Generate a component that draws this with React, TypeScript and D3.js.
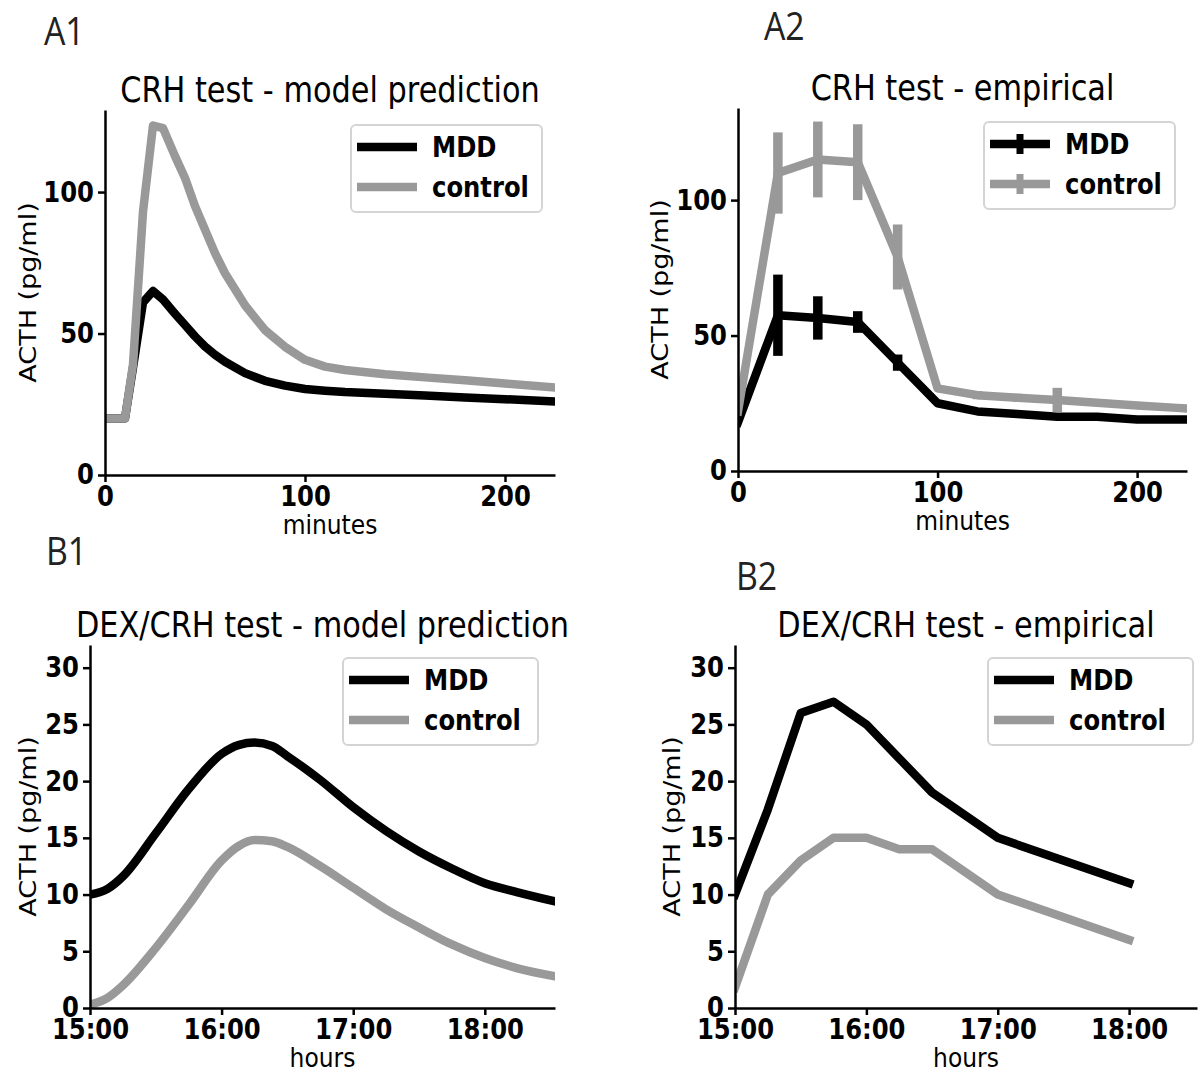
import React, { useRef, useEffect } from "react";
import * as d3 from "d3";

// A1 - CRH test, model prediction (minutes after CRH)
const crhModelMinutes = [0, 10, 14, 19, 24, 29, 35, 40, 45, 50, 55, 60, 70, 80, 90, 100, 110, 120, 140, 160, 180, 200, 225];
const crhModelMDD = [20, 20, 38, 61, 65, 62, 57, 53, 49, 45.4, 42.5, 40, 36, 33.3, 31.6, 30.4, 29.8, 29.3, 28.7, 28.1, 27.4, 26.8, 26];
const crhModelControl = [20, 20, 39, 93, 123.5, 122.6, 112.7, 105, 95, 86.7, 78.4, 71.3, 60, 51.2, 45.3, 40.7, 38.3, 37.1, 35.6, 34.5, 33.5, 32.3, 30.9];

// A2 - CRH test, empirical
const crhEmpMinutes = [0, 20, 40, 60, 80, 100, 120, 140, 160, 180, 200, 220, 240];
const crhEmpMDD = [18, 57.5, 56.5, 55, 40, 25, 22, 21, 20, 20, 19, 19, 19];
const crhEmpMDDErr = [0, 15, 8, 4, 3, 0, 0, 0, 0, 0, 0, 0, 0];
const crhEmpControl = [22, 110, 115, 114, 79, 30.5, 28, 27, 26.2, 25.2, 24.2, 23.3, 22.5];
const crhEmpControlErr = [0, 15, 14, 14, 12, 0, 1.5, 1.5, 4.5, 0, 0, 0, 0];

// B1 - DEX/CRH test, model prediction (hours after 15:00)
const dexModelHours = [0, 0.125, 0.25, 0.5, 0.75, 1, 1.125, 1.25, 1.375, 1.5, 1.75, 2, 2.25, 2.5, 2.75, 3, 3.25, 3.53];
const dexModelMDD = [10, 10.5, 11.6, 15.4, 19.3, 22.4, 23.2, 23.4, 23.1, 22.2, 20.1, 17.7, 15.6, 13.8, 12.3, 11, 10.2, 9.4];
const dexModelControl = [0.3, 0.9, 2, 5.3, 9.1, 13, 14.3, 14.8, 14.7, 14.2, 12.5, 10.6, 8.7, 7.1, 5.6, 4.4, 3.5, 2.8];

// B2 - DEX/CRH test, empirical
const dexEmpHours = [0, 0.25, 0.5, 0.75, 1, 1.25, 1.5, 2, 3];
const dexEmpMDD = [10, 17.5, 26, 27, 25, 22, 19, 15, 11];
const dexEmpControl = [1.8, 10, 13, 15, 15, 14, 14, 10, 6];

const minuteTicks = [0, 100, 200];
const crhTicks = [0, 50, 100];
const dexTicks = [0, 5, 10, 15, 20, 25, 30];
const hourTicks = ["15:00", "16:00", "17:00", "18:00"];
const seriesNames = ["MDD", "control"];

const SX = 0.867; // original figure is squeezed horizontally
const FONT = "'DejaVu Sans', sans-serif";
const FS = 28;
const LW = 8.5;
const GRAY = "#999999";

const parseHM = d3.timeParse("%H:%M");
const base = parseHM("15:00");
const atHour = (h) => d3.timeMinute.offset(base, Math.round(h * 60));

function drawPanel(root, p, id) {
  const g = root.append("g");
  root.append("defs").append("clipPath").attr("id", id)
    .append("rect")
    .attr("x", p.left).attr("y", p.top)
    .attr("width", p.right - p.left).attr("height", p.bottom - p.top);

  const line = d3.line().x(d => p.x(d[0])).y(d => p.y(d[1])).curve(p.curve);

  p.series.forEach(s => {
    const pts = s.x.map((xv, i) => [xv, s.y[i], s.err ? s.err[i] : 0]);
    g.append("path")
      .datum(pts)
      .attr("clip-path", `url(#${id})`)
      .attr("fill", "none")
      .attr("stroke", s.color)
      .attr("stroke-width", LW)
      .attr("stroke-linejoin", "round")
      .attr("stroke-linecap", "square")
      .attr("d", line);
    if (s.err) {
      g.selectAll(null)
        .data(pts.filter(d => d[2] > 0))
        .join("line")
        .attr("x1", d => p.x(d[0])).attr("x2", d => p.x(d[0]))
        .attr("y1", d => p.y(d[1] - d[2])).attr("y2", d => p.y(d[1] + d[2]))
        .attr("stroke", s.color)
        .attr("stroke-width", 9.5);
    }
  });

  // axes
  const xAxis = d3.axisBottom(p.x).tickValues(p.xTicks).tickSize(7).tickPadding(4).tickSizeOuter(0);
  if (p.xFormat) xAxis.tickFormat(p.xFormat);
  const yAxis = d3.axisLeft(p.y).tickValues(p.yTicks).tickSize(7).tickPadding(4).tickSizeOuter(0);

  const gx = g.append("g").attr("transform", `translate(0,${p.bottom})`).call(xAxis);
  const gy = g.append("g").attr("transform", `translate(${p.left},0)`).call(yAxis);
  [gx, gy].forEach(a => {
    a.attr("font-family", FONT).attr("font-size", FS).attr("font-weight", "bold");
    a.select(".domain").attr("stroke", "#000").attr("stroke-width", 2.5);
    a.selectAll(".tick line").attr("stroke", "#000").attr("stroke-width", 2.5);
    a.selectAll(".tick text").attr("fill", "#000");
  });
  gx.selectAll(".tick text").each(function () {
    const t = d3.select(this);
    const y = +t.attr("y");
    t.attr("y", 0).attr("transform", `translate(0,${y}) scale(${SX},1)`);
  });
  gy.selectAll(".tick text").each(function () {
    const t = d3.select(this);
    const x = +t.attr("x");
    t.attr("x", 0).attr("transform", `translate(${x},0) scale(${SX},1)`);
  });

  // title and labels
  const cx = (p.left + p.right) / 2;
  g.append("text")
    .attr("transform", `translate(${cx},${p.top - 8}) scale(${SX},1)`)
    .attr("text-anchor", "middle").attr("font-family", FONT).attr("font-size", 35)
    .text(p.title);
  g.append("text")
    .attr("transform", `translate(${cx},${p.bottom + 59}) scale(${SX},1)`)
    .attr("text-anchor", "middle").attr("font-family", FONT).attr("font-size", 27)
    .text(p.xLabel);
  g.append("text")
    .attr("transform", `translate(${p.ylabelX},${(p.top + p.bottom) / 2}) scale(${SX},1) rotate(-90)`)
    .attr("text-anchor", "middle").attr("dy", "0.36em").attr("font-family", FONT).attr("font-size", 27)
    .text("ACTH (pg/ml)");
  g.append("text")
    .attr("transform", `translate(${p.tag[1]},${p.tag[2]}) scale(${SX},1)`)
    .attr("font-family", "'Open Sans', sans-serif").attr("font-size", 39).attr("fill", "#222")
    .text(p.tag[0]);

  // legend
  const [lx, ly, lw] = p.legend;
  const lg = g.append("g").attr("transform", `translate(${lx},${ly})`);
  lg.append("rect").attr("x", 0).attr("y", 0).attr("width", lw).attr("height", 87).attr("rx", 5)
    .attr("fill", "#fff").attr("stroke", "#d4d4d4").attr("stroke-width", 2);
  p.series.forEach((s, i) => {
    const cy = 22 + i * 40;
    lg.append("line").attr("x1", 6).attr("x2", 66).attr("y1", cy).attr("y2", cy)
      .attr("stroke", s.color).attr("stroke-width", LW);
    if (s.err) {
      lg.append("line").attr("x1", 36).attr("x2", 36).attr("y1", cy - 10).attr("y2", cy + 10)
        .attr("stroke", s.color).attr("stroke-width", 7);
    }
    lg.append("text")
      .attr("transform", `translate(81,${cy}) scale(${SX},1)`)
      .attr("dy", "0.36em").attr("font-family", FONT).attr("font-size", FS).attr("font-weight", "bold")
      .text(s.name);
  });
}

const App = () => {
  const svgRef = useRef(null);

  useEffect(() => {
    const svg = d3.select(svgRef.current);
    svg.selectAll("*").remove();

    const hourTickDates = hourTicks.map(parseHM);
    const hm = d3.timeFormat("%H:%M");

    const panels = [
      {
        id: "a1", left: 105, right: 555, top: 110, bottom: 475,
        x: d3.scaleLinear().domain([0, 225]).range([105, 555]),
        y: d3.scaleLinear().domain([0, 129]).range([475, 110]),
        xTicks: minuteTicks, yTicks: crhTicks, curve: d3.curveLinear,
        title: "CRH test - model prediction", xLabel: "minutes", ylabelX: 28,
        tag: ["A1", 44, 45], legend: [351, 125, 191],
        series: [
          { name: seriesNames[0], x: crhModelMinutes, y: crhModelMDD, color: "#000" },
          { name: seriesNames[1], x: crhModelMinutes, y: crhModelControl, color: GRAY },
        ],
      },
      {
        id: "a2", left: 738, right: 1187, top: 108, bottom: 471,
        x: d3.scaleLinear().domain([0, 225]).range([738, 1187]),
        y: d3.scaleLinear().domain([0, 134]).range([471, 108]),
        xTicks: minuteTicks, yTicks: crhTicks, curve: d3.curveLinear,
        title: "CRH test - empirical", xLabel: "minutes", ylabelX: 660,
        tag: ["A2", 764, 40], legend: [984, 122, 191],
        series: [
          { name: seriesNames[0], x: crhEmpMinutes, y: crhEmpMDD, err: crhEmpMDDErr, color: "#000" },
          { name: seriesNames[1], x: crhEmpMinutes, y: crhEmpControl, err: crhEmpControlErr, color: GRAY },
        ],
      },
      {
        id: "b1", left: 90, right: 555, top: 645, bottom: 1008,
        x: d3.scaleTime().domain([base, atHour(3.53)]).range([90, 555]),
        y: d3.scaleLinear().domain([0, 32]).range([1008, 645]),
        xTicks: hourTickDates, xFormat: hm, yTicks: dexTicks, curve: d3.curveMonotoneX,
        title: "DEX/CRH test - model prediction", xLabel: "hours", ylabelX: 28,
        tag: ["B1", 46, 565], legend: [343, 658, 195],
        series: [
          { name: seriesNames[0], x: dexModelHours.map(atHour), y: dexModelMDD, color: "#000" },
          { name: seriesNames[1], x: dexModelHours.map(atHour), y: dexModelControl, color: GRAY },
        ],
      },
      {
        id: "b2", left: 735, right: 1197, top: 645, bottom: 1008,
        x: d3.scaleTime().domain([base, atHour(3.51)]).range([735, 1197]),
        y: d3.scaleLinear().domain([0, 32]).range([1008, 645]),
        xTicks: hourTickDates, xFormat: hm, yTicks: dexTicks, curve: d3.curveLinear,
        title: "DEX/CRH test - empirical", xLabel: "hours", ylabelX: 672,
        tag: ["B2", 736, 590], legend: [988, 658, 205],
        series: [
          { name: seriesNames[0], x: dexEmpHours.map(atHour), y: dexEmpMDD, color: "#000" },
          { name: seriesNames[1], x: dexEmpHours.map(atHour), y: dexEmpControl, color: GRAY },
        ],
      },
    ];

    panels.forEach(p => drawPanel(svg, p, "clip-" + p.id));
  }, []);

  return (
    <svg
      ref={svgRef}
      width={1203}
      height={1072}
      style={{ position: "absolute", left: 0, top: 0, background: "#fff" }}
    />
  );
};

export default App;
